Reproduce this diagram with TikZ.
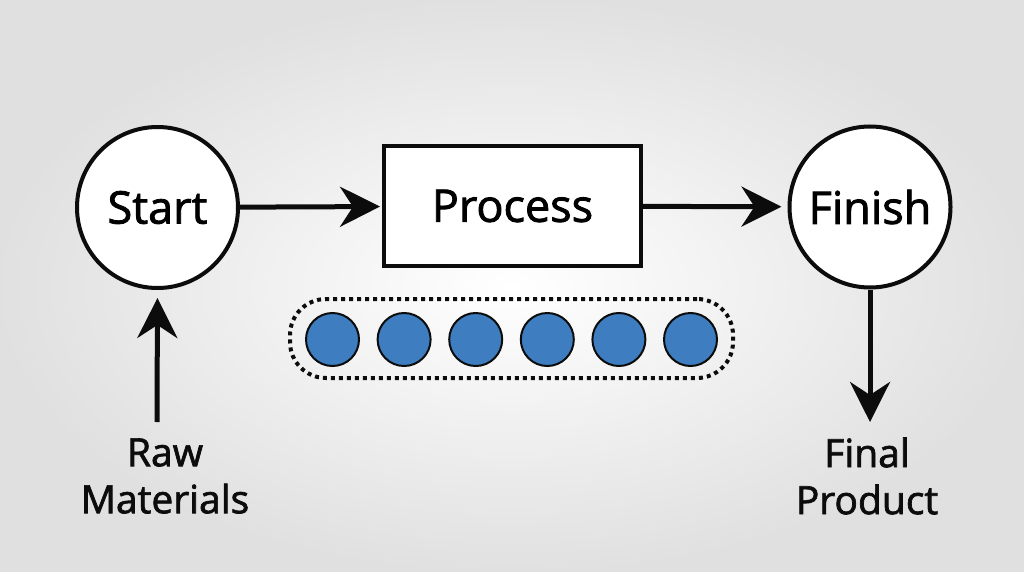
\documentclass[tikz,border=0pt]{standalone}
\usepackage{fontspec}
\setmainfont{Open Sans}[FakeBold=1.8]
\usetikzlibrary{arrows.meta,positioning}
\definecolor{ballblue}{RGB}{61,125,192}
\definecolor{inkblack}{RGB}{12,12,12}

\begin{document}
\begin{tikzpicture}[x=1pt, y=-1pt,
    stage/.style={circle, draw=inkblack, line width=4pt, fill=white, minimum size=161pt, inner sep=0pt, font=\fontsize{45}{54}\selectfont},
    procbox/.style={rectangle, draw=inkblack, line width=4pt, fill=white, minimum width=257pt, minimum height=120pt, inner sep=0pt, font=\fontsize{45}{54}\selectfont},
    ball/.style={circle, draw=inkblack, line width=2pt, fill=ballblue, minimum size=53pt, inner sep=0pt},
    tray/.style={rectangle, draw=inkblack, line width=4pt, dash pattern=on 4pt off 4pt, rounded corners=36pt, minimum width=443pt, minimum height=79pt},
    lbl/.style={align=center, font=\fontsize{39}{47}\selectfont, text=inkblack, inner sep=0pt},
    flow/.style={line width=5pt, draw=inkblack, -{Stealth[length=40pt, width=40pt, inset=13pt]}},
]
% Background
\shade[inner color=white, outer color=gray!24] (0,0) rectangle (1024,572);
\useasboundingbox (0,0) rectangle (1024,572);

% Stages
\node[stage] (start) at (157.5,207.5) {Start};
\node[procbox] (process) at (512.5,206) {Process};
\node[stage] (finish) at (870,207) {Finish};

% Tray of items
\node[tray] (items) at (511.5,338.5) {};
\foreach \i in {0,...,5}
    \node[ball] (ball\i) at (332.5+71.6*\i,339.5) {};

% Inputs and outputs
\node[lbl] (raw) at (165,476) {Raw\\Materials};
\node[lbl] (product) at (867,476) {Final\\Product};
\coordinate (rawtop) at (157,422);
\coordinate (prodend) at (870,422);

% Connectors
\draw[flow, shorten >=2pt] (start) -- (process);
\draw[flow, shorten >=6pt] (process) -- (finish);
\draw[flow, shorten >=8pt] (rawtop) -- (start.south);
\draw[flow] (finish.south) -- (prodend);
\end{tikzpicture}
\end{document}
